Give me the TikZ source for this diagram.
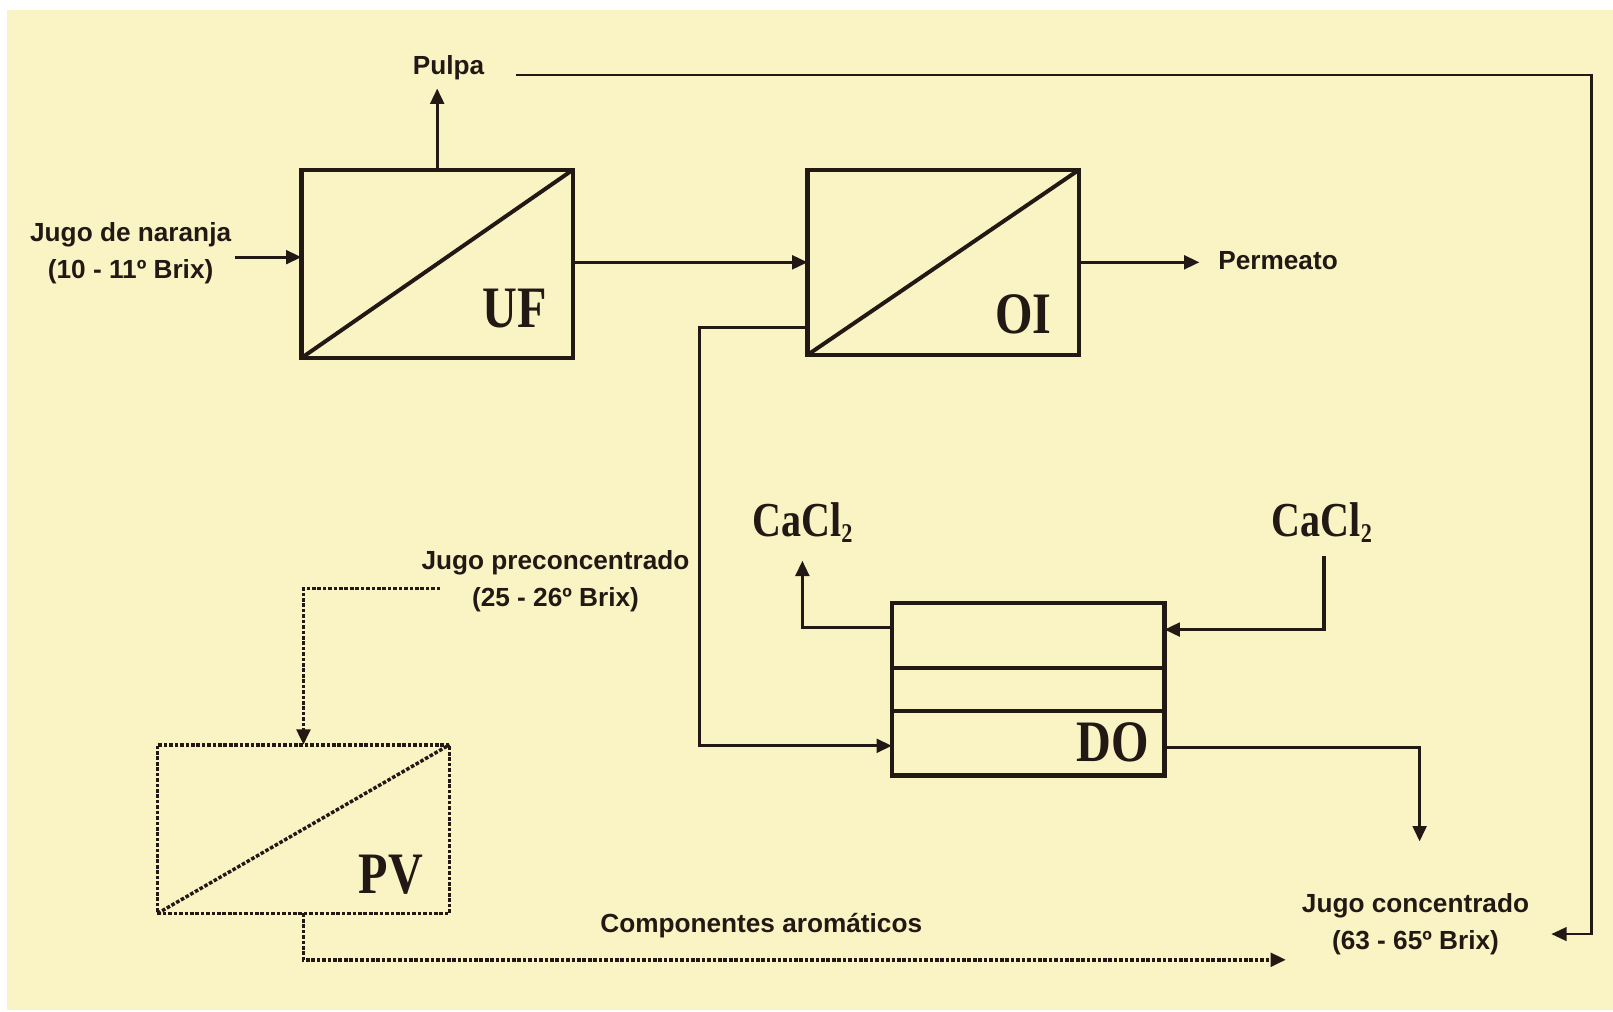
\documentclass[tikz,border=0pt]{standalone}
\usepackage{fontspec}
\setmainfont{Liberation Sans}
\newfontfamily\labfont[FakeStretch=0.82]{Liberation Serif}
\usetikzlibrary{arrows.meta,calc}
\definecolor{bgyellow}{RGB}{250,244,196}
\definecolor{ink}{RGB}{35,25,20}
\tikzset{
  unitbox/.style={draw=ink,line width=2.4pt,inner sep=0pt,outer sep=0pt},
  conn/.style={draw=ink,line width=1.8pt},
  arr/.style={conn,-{Triangle[length=8.5pt,width=7.5pt]}},
  dotline/.style={draw=ink,line width=1.9pt,dash pattern=on 2pt off 1pt},
  dotarr/.style={dotline,-{Triangle[length=8.5pt,width=7.5pt]}},
  txt/.style={text=ink,font=\bfseries\fontsize{14.5}{20.5}\selectfont,align=center,inner sep=0pt},
  lab/.style={text=ink,font=\labfont\bfseries\fontsize{32.5}{34}\selectfont,inner sep=0pt},
  cacl/.style={text=ink,font=\labfont\bfseries\fontsize{27}{30}\selectfont,inner sep=0pt}
}
\newcommand{\subtwo}{\raisebox{-0.25ex}{\fontsize{15}{16}\selectfont 2}}
\begin{document}
\begin{tikzpicture}[x=0.02cm,y=-0.02cm]
\useasboundingbox (0,0) rectangle (1568,983);
\fill[white] (0,0) rectangle (1568,983);
\fill[bgyellow] (7,10) rectangle (1568,982);

% unit boxes
\node[unitbox,minimum width=5.28cm,minimum height=3.66cm] (UF) at (425,256.5) {};
\node[unitbox,minimum width=5.28cm,minimum height=3.60cm] (OI) at (917,255) {};
\node[unitbox,minimum width=5.30cm,minimum height=3.36cm] (DO) at (999.5,670) {};
\node[unitbox,dotline,minimum width=5.68cm,minimum height=3.28cm] (PV) at (295,806) {};

\draw[ink,line width=2.2pt] (UF.south west) -- (UF.north east);
\draw[ink,line width=2.2pt] (OI.south west) -- (OI.north east);
\draw[dotline] (PV.south west) -- (PV.north east);
\draw[ink,line width=2.2pt] (DO.west |- 0,649) -- (DO.east |- 0,649);
\draw[ink,line width=2.2pt] (DO.west |- 0,691) -- (DO.east |- 0,691);

% unit labels
\node[lab] (UFl) at (500,300) {UF};
\node[lab] (OIl) at (995,306) {OI};
\node[lab] (DOl) at (1082,722) {DO};
\node[lab] (PVl) at (380,850) {PV};

% texts
\node[txt] (pulpa) at (436,66) {Pulpa};
\node[txt] (jn) at (127,246) {Jugo de naranja\\(10 - 11º Brix)};
\node[txt,anchor=west] (perm) at (1184,253) {Permeato};
\node[cacl] (cl1) at (780,508) {CaCl\subtwo};
\node[cacl] (cl2) at (1285,508) {CaCl\subtwo};
\node[txt] (jp) at (540,565) {Jugo preconcentrado\\(25 - 26º Brix)};
\node[txt] (ca) at (740,900) {Componentes aromáticos};
\node[txt] (jc) at (1376,898) {Jugo concentrado\\(63 - 65º Brix)};

% coordinates
\coordinate (a0) at (228,250);
\coordinate (r0) at (502,73);
\coordinate (r1) at (1547,73);
\coordinate (r2) at (1547,908);
\coordinate (r3) at (1508,908);
\coordinate (o1) at (680,318);
\coordinate (o2) at (680,725);
\coordinate (c1) at (780,610);
\coordinate (c1t) at (780,545);
\coordinate (c2) at (1287,540);
\coordinate (c2b) at (1287,612);
\coordinate (d1) at (1380,727);
\coordinate (d2) at (1380,818);
\coordinate (p0) at (428,572);
\coordinate (p1) at (295,572);
\coordinate (v1) at (295,933);
\coordinate (v2) at (1250,933);

% connectors
\draw[arr] (a0) -- (a0 -| UF.west);
\draw[arr] (UF.north) -- (UF.north |- 0,86);
\draw[ink,line width=1.4pt,-{Triangle[length=8.5pt,width=7.5pt]}] (r0) -- (r1) -- (r2) -- (r3);
\draw[arr] (UF.east |- 0,255) -- (OI.west |- 0,255);
\draw[arr] (OI.east |- 0,255) -- (1166,255);
\draw[arr] (OI.west |- o1) -- (o1) -- (o2) -- (DO.west |- o2);
\draw[arr] (DO.west |- c1) -- (c1) -- (c1t);
\draw[arr] (c2) -- (c2b) -- (DO.east |- c2b);
\draw[arr] (DO.east |- d1) -- (d1) -- (d2);
\draw[dotarr] (p0) -- (p1) -- (PV.north);
\draw[dotarr] (PV.south) -- (v1) -- (v2);
\end{tikzpicture}
\end{document}
